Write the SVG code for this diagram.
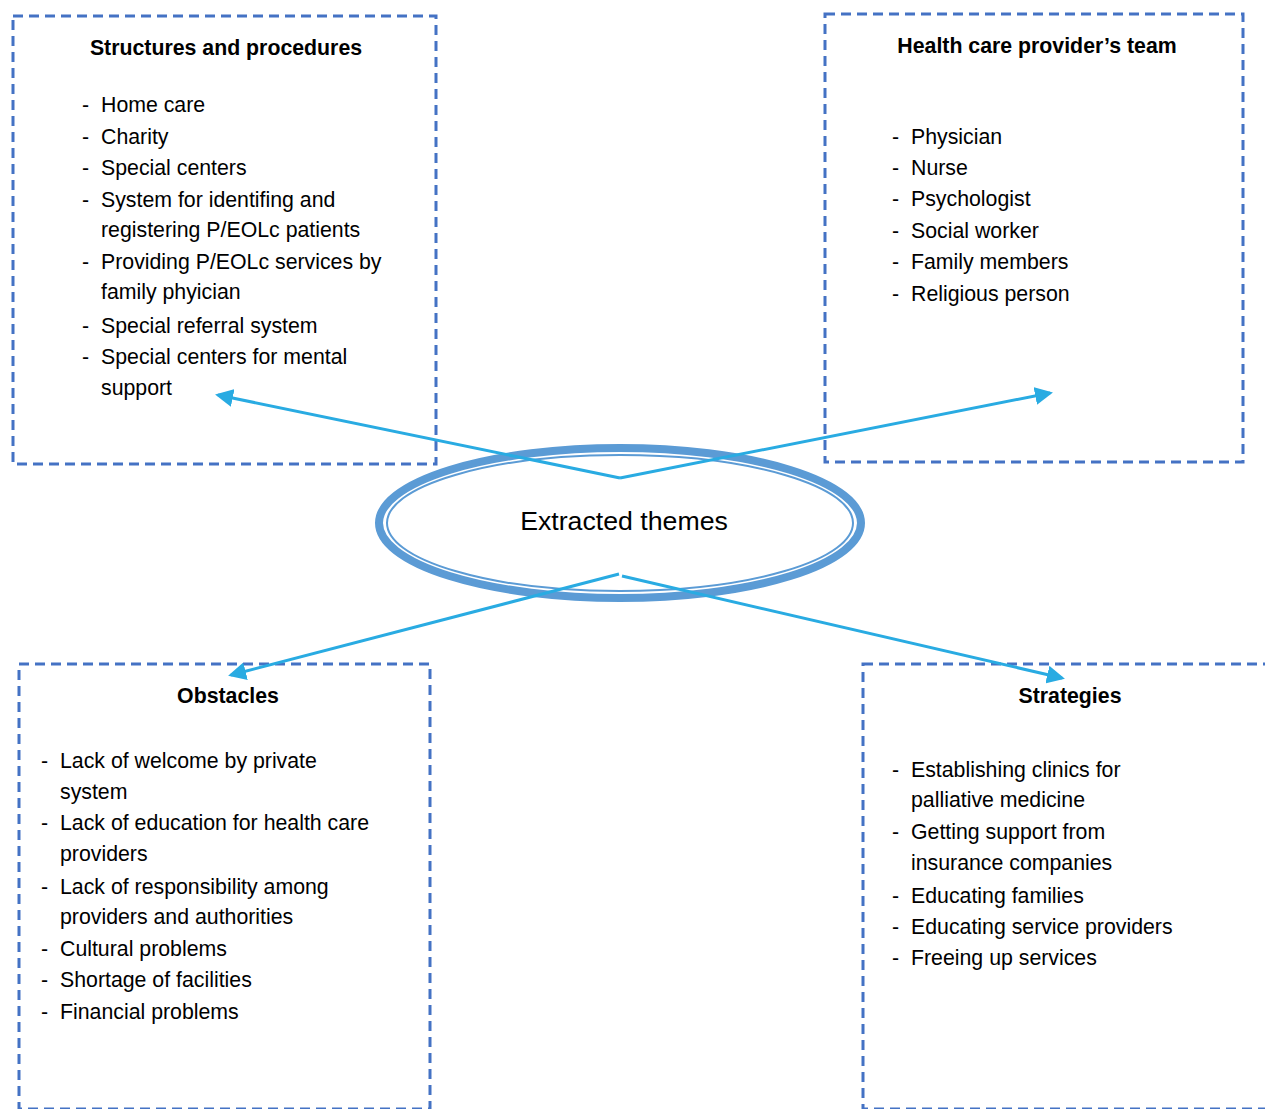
<svg xmlns="http://www.w3.org/2000/svg" width="1265" height="1109" viewBox="0 0 1265 1109">
<style>
.box{fill:none;stroke:#4472c4;stroke-width:3;stroke-dasharray:10,6}
.h{font-family:"Liberation Sans",Arial,sans-serif;font-weight:bold;font-size:21.3px;fill:#000;text-anchor:middle}
.t{font-family:"Liberation Sans",Arial,sans-serif;font-size:21.3px;fill:#000}
.c{stroke:#29abe2;stroke-width:3;fill:none}
</style>
<defs>
<marker id="ah" markerWidth="6" markerHeight="6" refX="5" refY="3" orient="auto" markerUnits="strokeWidth">
<path d="M0,0 L6,3 L0,6 z" fill="#29abe2"/>
</marker>
</defs>
<rect width="1265" height="1109" fill="#fff"/>
<g id="node-structures">
<rect class="box" x="13" y="16" width="423" height="448"/>
<text class="h" x="226" y="55">Structures and procedures</text>
<g class="t">
<text x="82" y="112">-</text><text x="101" y="112">Home care</text>
<text x="82" y="144">-</text><text x="101" y="144">Charity</text>
<text x="82" y="175">-</text><text x="101" y="175">Special centers</text>
<text x="82" y="207">-</text><text x="101" y="207">System for identifing and</text>
<text x="101" y="237">registering P/EOLc patients</text>
<text x="82" y="269">-</text><text x="101" y="269">Providing P/EOLc services by</text>
<text x="101" y="299">family phyician</text>
<text x="82" y="333">-</text><text x="101" y="333">Special referral system</text>
<text x="82" y="364">-</text><text x="101" y="364">Special centers for mental</text>
<text x="101" y="395">support</text>
</g>
</g>
<g id="node-team">
<rect class="box" x="825" y="14" width="418" height="448"/>
<text class="h" x="1037" y="53">Health care provider’s team</text>
<g class="t">
<text x="892" y="144">-</text><text x="911" y="144">Physician</text>
<text x="892" y="175">-</text><text x="911" y="175">Nurse</text>
<text x="892" y="206">-</text><text x="911" y="206">Psychologist</text>
<text x="892" y="238">-</text><text x="911" y="238">Social worker</text>
<text x="892" y="269">-</text><text x="911" y="269">Family members</text>
<text x="892" y="301">-</text><text x="911" y="301">Religious person</text>
</g>
</g>
<g id="node-obstacles">
<rect class="box" x="19" y="664" width="411" height="445"/>
<text class="h" x="228" y="703">Obstacles</text>
<g class="t">
<text x="41" y="768">-</text><text x="60" y="768">Lack of welcome by private</text>
<text x="60" y="799">system</text>
<text x="41" y="830">-</text><text x="60" y="830">Lack of education for health care</text>
<text x="60" y="861">providers</text>
<text x="41" y="894">-</text><text x="60" y="894">Lack of responsibility among</text>
<text x="60" y="924">providers and authorities</text>
<text x="41" y="956">-</text><text x="60" y="956">Cultural problems</text>
<text x="41" y="987">-</text><text x="60" y="987">Shortage of facilities</text>
<text x="41" y="1019">-</text><text x="60" y="1019">Financial problems</text>
</g>
</g>
<g id="node-strategies">
<rect class="box" x="863" y="664" width="420" height="445"/>
<text class="h" x="1070" y="703">Strategies</text>
<g class="t">
<text x="892" y="777">-</text><text x="911" y="777">Establishing clinics for</text>
<text x="911" y="807">palliative medicine</text>
<text x="892" y="839">-</text><text x="911" y="839">Getting support from</text>
<text x="911" y="870">insurance companies</text>
<text x="892" y="903">-</text><text x="911" y="903">Educating families</text>
<text x="892" y="934">-</text><text x="911" y="934">Educating service providers</text>
<text x="892" y="965">-</text><text x="911" y="965">Freeing up services</text>
</g>
</g>
<g id="node-center">
<ellipse cx="620" cy="523" rx="241" ry="75" fill="#fff" stroke="#5b9bd5" stroke-width="8"/>
<ellipse cx="620" cy="523" rx="233" ry="68" fill="none" stroke="#5b9bd5" stroke-width="2"/>
<text x="624" y="530" font-family="Liberation Sans, Arial, sans-serif" font-size="26.7" text-anchor="middle" fill="#000">Extracted themes</text>
</g>
<g id="connectors">
<line class="c" x1="620" y1="478" x2="218" y2="395" marker-end="url(#ah)"/>
<line class="c" x1="620" y1="478" x2="1050" y2="393" marker-end="url(#ah)"/>
<line class="c" x1="619" y1="574" x2="231" y2="675" marker-end="url(#ah)"/>
<line class="c" x1="622" y1="576" x2="1062" y2="678" marker-end="url(#ah)"/>
</g>
</svg>
